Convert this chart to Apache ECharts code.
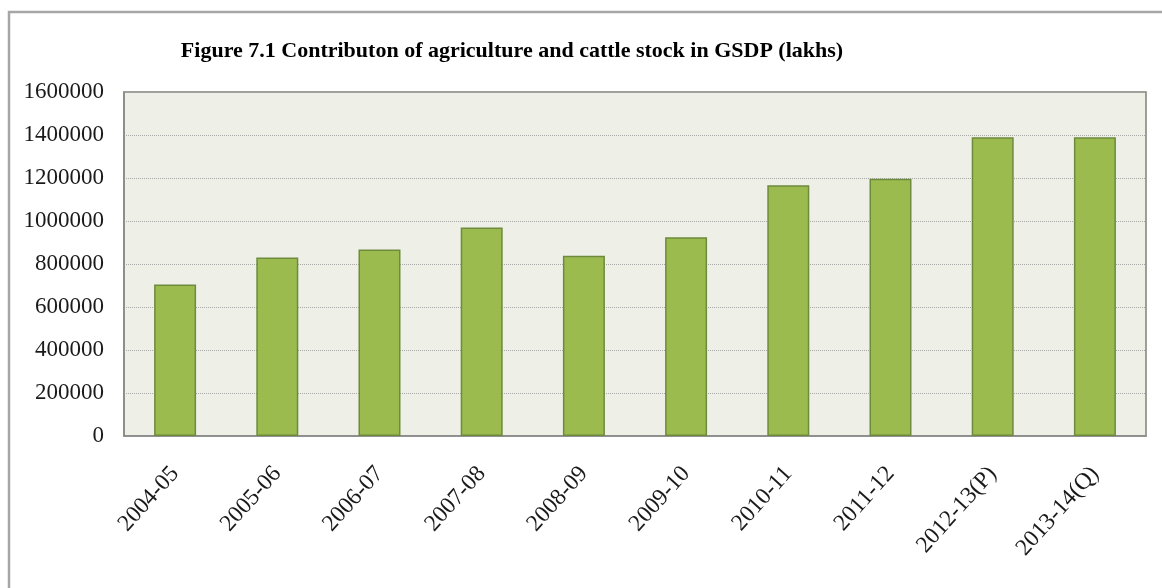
<!DOCTYPE html>
<html>
<head>
<meta charset="utf-8">
<script src="https://cdn.jsdelivr.net/npm/echarts@6/dist/echarts.min.js"></script>
<style>
  html, body { margin: 0; padding: 0; background: #ffffff; }
  #chart { width: 1162px; height: 588px; }
</style>
</head>
<body>
<div id="chart"></div>
<script>
// Agriculture and cattle stock contribution to GSDP, in lakhs
const years = ['2004-05', '2005-06', '2006-07', '2007-08', '2008-09',
               '2009-10', '2010-11', '2011-12', '2012-13(P)', '2013-14(Q)'];
const gsdpValues = [705000, 830000, 868000, 970000, 838000,
                    925000, 1166000, 1197000, 1390000, 1390000];
const yTicks = [0, 200000, 400000, 600000, 800000, 1000000, 1200000, 1400000, 1600000];

const chart = echarts.init(document.getElementById('chart'), null, { renderer: 'canvas' });

chart.setOption({
  animation: false,
  backgroundColor: '#ffffff',
  title: {
    text: 'Figure 7.1 Contributon of agriculture and cattle stock in GSDP (lakhs)',
    left: 507,
    textAlign: 'center',
    top: 35,
    textStyle: {
      fontFamily: 'Liberation Serif',
      fontWeight: 'bold',
      fontSize: 22,
      color: '#000000'
    }
  },
  graphic: [{
    type: 'rect',
    shape: { x: 9, y: 12, width: 1300, height: 800 },
    style: { fill: 'none', stroke: '#a6a6a6', lineWidth: 2.5 },
    silent: true,
    z: -10
  }],
  grid: {
    left: 124,
    top: 92,
    right: 16,
    bottom: 152,
    show: true,
    backgroundColor: '#eef0e8',
    borderColor: '#7d8274',
    borderWidth: 1.5
  },
  xAxis: {
    type: 'category',
    data: years,
    axisLine: { show: true, lineStyle: { color: '#8a8a8a', width: 1.5 } },
    axisTick: { show: false },
    axisLabel: {
      rotate: 48,
      margin: 34,
      interval: 0,
      fontFamily: 'Liberation Serif',
      fontSize: 23.5,
      color: '#1a1a1a'
    }
  },
  yAxis: {
    type: 'value',
    min: yTicks[0],
    max: yTicks[yTicks.length - 1],
    interval: yTicks[1] - yTicks[0],
    axisLine: { show: true, lineStyle: { color: '#8a8a8a', width: 1.5 } },
    axisTick: { show: false },
    axisLabel: {
      margin: 20,
      fontFamily: 'Liberation Serif',
      fontSize: 23,
      color: '#1a1a1a',
      formatter: (v) => String(v)
    },
    splitLine: {
      show: true,
      lineStyle: { color: '#a8a8a8', type: [1, 1], width: 1 }
    }
  },
  series: [{
    type: 'bar',
    data: gsdpValues,
    barWidth: 42,
    itemStyle: {
      color: '#9bbb4f',
      borderColor: '#6e8a3c',
      borderWidth: 1.5
    }
  }]
});
</script>
</body>
</html>
